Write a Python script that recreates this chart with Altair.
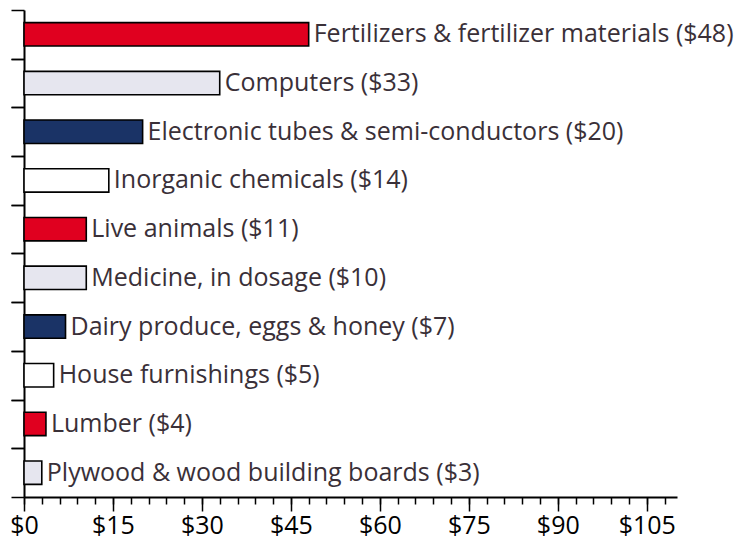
import altair as alt
import pandas as pd

categories = [
    "Fertilizers & fertilizer materials",
    "Computers",
    "Electronic tubes & semi-conductors",
    "Inorganic chemicals",
    "Live animals",
    "Medicine, in dosage",
    "Dairy produce, eggs & honey",
    "House furnishings",
    "Lumber",
    "Plywood & wood building boards",
]
label_values = [48, 33, 20, 14, 11, 10, 7, 5, 4, 3]
bar_values = [48.0, 33.0, 20.0, 14.3, 10.5, 10.5, 7.0, 5.0, 3.7, 3.0]
groups = ["a", "b", "c", "d", "a", "b", "c", "d", "a", "b"]
palette_domain = ["a", "b", "c", "d"]
palette_range = ["#e0001f", "#e6e6ef", "#1a3366", "#ffffff"]
major_ticks = [0, 15, 30, 45, 60, 75, 90, 105]
minor_ticks = list(range(0, 111, 3))

df = pd.DataFrame({
    "cat": categories,
    "value": bar_values,
    "group": groups,
    "label": [f"{c} (${v})" for c, v in zip(categories, label_values)],
})

FONT = "Open Sans"
W, H = 653, 487
STEP = H / len(categories)

x_scale = alt.Scale(domain=[0, 110.1], nice=False)
y_scale = alt.Scale(paddingInner=0.52, paddingOuter=0.26)

bars = alt.Chart(df).mark_bar(stroke="black", strokeWidth=1.6).encode(
    x=alt.X("value:Q", scale=x_scale,
            axis=alt.Axis(values=major_ticks, title=None, format="$d",
                          tickSize=14, tickWidth=1.5, tickColor="black",
                          domainColor="black", domainWidth=2,
                          labelFont=FONT, labelFontSize=25, labelColor="black",
                          labelPadding=2, labelFlush=False, grid=False,
                          orient="bottom")),
    y=alt.Y("cat:N", sort=categories, scale=y_scale,
            axis=alt.Axis(labels=False, title=None, tickSize=13,
                          tickOffset=-STEP / 2, tickWidth=1.5,
                          tickColor="black", domainColor="black",
                          domainWidth=2, orient="left")),
    color=alt.Color("group:N", scale=alt.Scale(domain=palette_domain, range=palette_range), legend=None),
)

labels = alt.Chart(df).mark_text(align="left", baseline="middle", dx=5,
                                 font=FONT, fontSize=25, color="#3a3038").encode(
    x=alt.X("value:Q", scale=x_scale,
            axis=alt.Axis(values=minor_ticks, labels=False, title=None,
                          tickSize=7, tickWidth=1.5, tickColor="black",
                          domain=False, grid=False, orient="bottom")),
    y=alt.Y("cat:N", sort=categories, scale=y_scale,
            axis=alt.Axis(labels=False, title=None, tickSize=13,
                          tickOffset=STEP / 2, tickWidth=1.5,
                          tickColor="black", domain=False, orient="left")),
    text="label:N",
)

chart = alt.layer(bars, labels).resolve_axis(x="independent", y="independent").properties(
    width=W, height=H,
    autosize=alt.AutoSizeParams(type="none"),
    padding={"left": 16, "top": 2, "right": 58, "bottom": 45},
).configure_view(stroke=None)

chart.save("out.html", embed_options={"renderer": "svg", "actions": False})
